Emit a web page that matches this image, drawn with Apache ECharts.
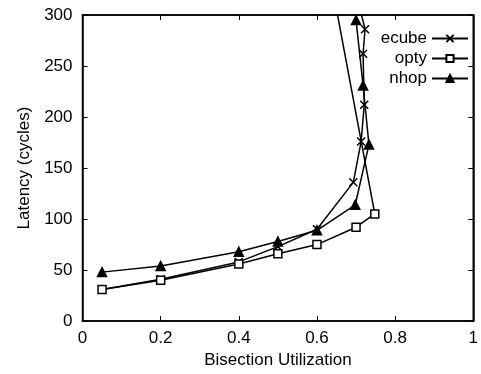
<!DOCTYPE html>
<html><head><meta charset="utf-8">
<script src="https://cdn.jsdelivr.net/npm/echarts@6/dist/echarts.min.js"></script>
<style>html,body{margin:0;padding:0;background:#fff}#c{width:481px;height:374px}</style>
</head><body><div id="c"></div>
<script>
const seriesNames = ['ecube', 'opty', 'nhop'];
const ecubeX = [0.05, 0.2, 0.4, 0.5, 0.6, 0.693, 0.713, 0.721, 0.718, 0.723, 0.695];
const ecubeY = [31, 41, 58, 73, 90, 136, 176, 212, 262, 286, 330];
const optyX = [0.05, 0.2, 0.4, 0.5, 0.6, 0.70, 0.748, 0.638];
const optyY = [31, 40, 56, 66, 75, 92, 105, 330];
const nhopX = [0.05, 0.2, 0.4, 0.5, 0.6, 0.698, 0.733, 0.718, 0.70];
const nhopY = [48, 54, 68, 78, 89, 114, 173, 231, 295];
const xTicks = [0, 0.2, 0.4, 0.6, 0.8, 1];
const yTicks = [0, 50, 100, 150, 200, 250, 300];

const pair = (xs, ys) => xs.map((x, i) => [x, ys[i]]);
const font = 'Liberation Sans, Arial, sans-serif';
const crossPath = 'path://M0,0L10,10M10,0L0,10';

const chart = echarts.init(document.getElementById('c'));
const axisCommon = () => ({
  axisLine: { show: true, onZero: false, lineStyle: { color: '#000', width: 1.5 } },
  axisTick: { show: true, inside: true, length: 5, lineStyle: { color: '#000', width: 1 } },
  splitLine: { show: false }
});
const mk = (name, xs, ys, symbol, size, fill) => ({
  name: name, type: 'line', data: pair(xs, ys),
  symbol: symbol, symbolSize: size, showSymbol: true,
  lineStyle: { color: '#000', width: 1.5 },
  itemStyle: { color: fill, borderColor: '#000', borderWidth: 1.5 },
  emphasis: { disabled: true }, animation: false, clip: true
});
chart.setOption({
  animation: false,
  grid: { left: 82.5, right: 1.5, top: 15, bottom: 44, show: true, borderColor: '#000', borderWidth: 1.5, backgroundColor: 'transparent' },
  legend: {
    data: seriesNames, orient: 'vertical', right: 7, top: 25, align: 'right',
    itemWidth: 36, itemHeight: 9, itemGap: 3,
    textStyle: { fontFamily: font, fontSize: 17, color: '#000', lineHeight: 14 }
  },
  xAxis: [
    Object.assign(axisCommon(), {
      type: 'value', min: 0, max: 1, interval: 0.2,
      name: 'Bisection Utilization', nameLocation: 'middle', nameGap: 25,
      nameTextStyle: { fontFamily: font, fontSize: 17, color: '#000' },
      axisLabel: { margin: 9, fontFamily: font, fontSize: 17, color: '#000',
        formatter: v => xTicks.includes(Math.round(v * 10) / 10) ? String(Math.round(v * 10) / 10) : '' }
    }),
    Object.assign(axisCommon(), {
      type: 'value', min: 0, max: 1, interval: 0.2, position: 'top',
      axisLabel: { show: false }
    })
  ],
  yAxis: [
    Object.assign(axisCommon(), {
      type: 'value', min: 0, max: 300, interval: 50,
      name: 'Latency (cycles)', nameLocation: 'middle', nameGap: 50,
      nameTextStyle: { fontFamily: font, fontSize: 17, color: '#000' },
      axisLabel: { margin: 10, fontFamily: font, fontSize: 17, color: '#000',
        formatter: v => yTicks.includes(v) ? String(v) : '' }
    }),
    Object.assign(axisCommon(), {
      type: 'value', min: 0, max: 300, interval: 50, position: 'right',
      axisLabel: { show: false }
    })
  ],
  series: [
    mk('ecube', ecubeX, ecubeY, crossPath, 8, 'none'),
    mk('opty', optyX, optyY, 'rect', 8, '#fff'),
    mk('nhop', nhopX, nhopY, 'triangle', 9, '#000'),
    { type: 'line', xAxisIndex: 1, yAxisIndex: 1, data: [], silent: true }
  ]
});
</script></body></html>
